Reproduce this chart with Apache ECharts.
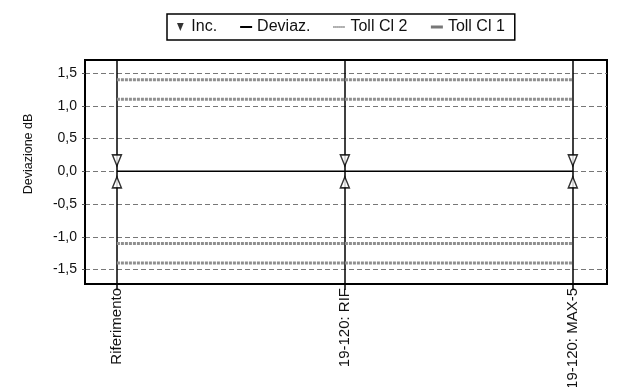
<!DOCTYPE html>
<html style="height: 100%">
<head>
    <meta charset="utf-8">
    <script src="https://cdn.jsdelivr.net/npm/echarts@6/dist/echarts.min.js"></script>
</head>
<body style="height: 100%; width: 100%; margin: 0; background-color: #fff;">

    <div id="container" style="width: 627px; height: 387px;"></div>

    <script type="text/javascript">
        // dati
        var categories = ['Riferimento', '19-120: RIF', '19-120: MAX-5'];
        var catPos = [0, 1, 2];
        var incValues = [0, 0, 0];
        var deviazValues = [0, 0, 0];
        var tollCl2Upper = [1.4, 1.4, 1.4];
        var tollCl2Lower = [-1.4, -1.4, -1.4];
        var tollCl1Upper = [1.1, 1.1, 1.1];
        var tollCl1Lower = [-1.1, -1.1, -1.1];
        var yTicks = [-1.5, -1, -0.5, 0, 0.5, 1, 1.5];

        var font = 'Liberation Sans, Arial, sans-serif';

        function pairs(vals) {
            return catPos.map(function (x, i) { return [x, vals[i]]; });
        }

        var tollStyle = { color: '#8f8f8f', width: 3, type: [3, 1] };
        var noSymbol = { opacity: 0 };

        var dom = document.getElementById("container");
        var myChart = echarts.init(dom);

        var option = {
            animation: false,
            legend: {
                data: [
                    { name: 'Inc.', icon: 'path://M0,0 L10,0 L5,12 Z', itemStyle: { color: '#000', borderWidth: 0 } },
                    { name: 'Deviaz.', itemStyle: noSymbol },
                    { name: 'Toll Cl 2', itemStyle: noSymbol, lineStyle: { color: '#666', type: [1, 1], width: 2 } },
                    { name: 'Toll Cl 1', itemStyle: noSymbol, lineStyle: { color: '#777', type: 'solid', width: 3 } }
                ],
                left: 167,
                top: 14,
                padding: [5, 10],
                itemGap: 22,
                itemWidth: 12,
                itemHeight: 8,
                borderColor: '#000',
                borderWidth: 1.5,
                backgroundColor: '#fff',
                textStyle: { fontSize: 16, color: '#111', fontFamily: font }
            },
            grid: {
                left: 85,
                right: 20,
                top: 60,
                bottom: 103,
                show: true,
                borderColor: '#000',
                borderWidth: 2,
                containLabel: false,
                outerBoundsMode: 'none'
            },
            xAxis: {
                type: 'value',
                min: -0.14,
                max: 2.15,
                axisLine: { show: true, onZero: false, lineStyle: { color: '#000', width: 2 } },
                axisTick: {
                    show: true, customValues: catPos, length: 6, inside: false,
                    lineStyle: { color: '#000', width: 1.5 }
                },
                axisLabel: {
                    customValues: catPos,
                    rotate: 90,
                    margin: 4,
                    fontSize: 15,
                    color: '#111',
                    fontFamily: font,
                    formatter: function (v) { return categories[Math.round(v)]; }
                },
                splitLine: { show: true, lineStyle: { color: '#000', width: 1.5 } }
            },
            yAxis: {
                type: 'value',
                min: -1.72,
                max: 1.70,
                name: 'Deviazione dB',
                nameLocation: 'middle',
                nameGap: 50,
                nameTextStyle: { fontSize: 12.5, color: '#111', fontFamily: font, padding: [0, 0, 0, 36] },
                axisLine: { show: true, onZero: false, lineStyle: { color: '#000', width: 2 } },
                axisTick: {
                    show: true, customValues: yTicks, length: 3,
                    lineStyle: { color: '#555' }
                },
                axisLabel: {
                    customValues: yTicks,
                    margin: 8,
                    fontSize: 14,
                    color: '#111',
                    fontFamily: font,
                    formatter: function (v) { return v.toFixed(1).replace('.', ','); }
                },
                splitLine: { show: true, lineStyle: { color: '#777', width: 1, type: [5, 3] } }
            },
            series: [
                {
                    name: 'Inc.',
                    type: 'scatter',
                    data: pairs(incValues),
                    symbol: 'path://M0,0 L10,0 L5,12 Z',
                    symbolSize: [9, 11],
                    symbolOffset: [0, -11],
                    itemStyle: { color: '#fff', borderColor: '#000', borderWidth: 1.5 },
                    z: 5
                },
                {
                    name: 'Inc.',
                    type: 'scatter',
                    data: pairs(incValues),
                    symbol: 'path://M5,0 L10,12 L0,12 Z',
                    symbolSize: [9, 11],
                    symbolOffset: [0, 11],
                    itemStyle: { color: '#fff', borderColor: '#000', borderWidth: 1.5 },
                    z: 5
                },
                {
                    name: 'Deviaz.',
                    type: 'line',
                    data: pairs(deviazValues),
                    symbol: 'none',
                    lineStyle: { color: '#000', width: 1.5 },
                    itemStyle: { color: '#000' },
                    z: 4
                },
                {
                    name: 'Toll Cl 2',
                    type: 'line',
                    data: pairs(tollCl2Upper),
                    symbol: 'none',
                    lineStyle: tollStyle,
                    itemStyle: { color: '#8f8f8f' }
                },
                {
                    name: 'Toll Cl 2',
                    type: 'line',
                    data: pairs(tollCl2Lower),
                    symbol: 'none',
                    lineStyle: tollStyle,
                    itemStyle: { color: '#8f8f8f' }
                },
                {
                    name: 'Toll Cl 1',
                    type: 'line',
                    data: pairs(tollCl1Upper),
                    symbol: 'none',
                    lineStyle: tollStyle,
                    itemStyle: { color: '#8f8f8f' }
                },
                {
                    name: 'Toll Cl 1',
                    type: 'line',
                    data: pairs(tollCl1Lower),
                    symbol: 'none',
                    lineStyle: tollStyle,
                    itemStyle: { color: '#8f8f8f' }
                }
            ]
        };

        myChart.setOption(option, true);
    </script>
</body>
</html>
